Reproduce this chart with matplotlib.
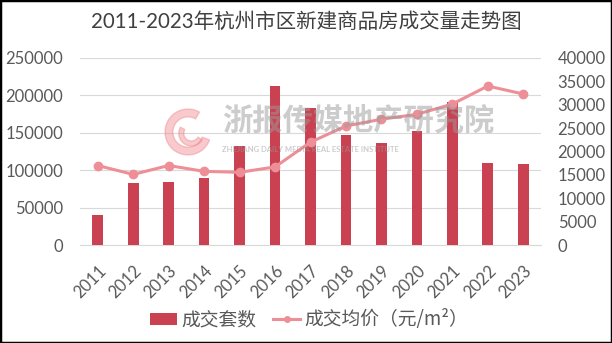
import matplotlib
matplotlib.use('Agg')
import matplotlib.pyplot as plt
from matplotlib.patches import Wedge, Rectangle, Patch
from matplotlib.lines import Line2D
import numpy as np

plt.rcParams['font.family'] = ['Lato', 'Noto Sans CJK SC', 'DejaVu Sans']

# 数据
years = ['2011', '2012', '2013', '2014', '2015', '2016', '2017',
         '2018', '2019', '2020', '2021', '2022', '2023']
units = [40000, 83000, 84000, 89500, 132000, 212000, 183000,
         147000, 136000, 152000, 191000, 110000, 108000]
avg_price = [17000, 15100, 17000, 15750, 15550, 16700, 22000,
             25450, 26900, 27950, 30150, 34000, 32300]

title = '2011-2023年杭州市区新建商品房成交量走势图'
bar_label = '成交套数'
line_label = '成交均价（元/m²）'

bar_color = '#CA4252'
line_color = '#EE8F97'
text_color = '#595959'

fig = plt.figure(figsize=(6.12, 3.43), dpi=100)
fig.patch.set_facecolor('white')
ax = fig.add_axes([80 / 612, 1 - 245 / 343, 461 / 612, 187 / 343])
ax2 = ax.twinx()

x = np.arange(len(years))

# 水印
wm = fig.add_axes([160 / 612, 1 - 160 / 343, 56 / 612, 56 / 343])
wm.set_xlim(-1, 1)
wm.set_ylim(-1, 1)
wm.set_aspect('equal')
wm.axis('off')
wm.add_patch(Wedge((0, 0), 0.82, 60, 340, width=0.28, color='#F08A92', alpha=0.45))
wm.add_patch(Wedge((0.12, -0.05), 0.45, 150, 330, width=0.18, color='#F08A92', alpha=0.45))
wm.set_zorder(0)
fig.text(222 / 612, 1 - 121 / 343, '浙报传媒地产研究院', fontsize=21.8, fontweight='bold',
         color='#9A9A9A', alpha=0.5, va='center', ha='left',
         family=['Noto Sans CJK SC'], zorder=0)
fig.text(222 / 612, 1 - 150 / 343, 'ZHEJIANG DAILY MEDIA REAL ESTATE INSTITUTE',
         fontsize=5.5, fontweight='bold', color='#9A9A9A', alpha=0.5,
         va='center', ha='left', zorder=0)

# 柱状图
ax.bar(x, units, width=0.3, color=bar_color, zorder=3, label=bar_label)
ax.set_ylim(0, 250000)
ax.set_yticks(np.arange(0, 250001, 50000))
ax.set_xlim(-0.5, len(years) - 0.5)
ax.yaxis.grid(True, color='#D9D9D9', linewidth=0.8, zorder=0)
ax.set_axisbelow(True)
ax.set_xticks(x)
ax.set_xticklabels(years, rotation=45, ha='right', rotation_mode='anchor')
ax.patch.set_alpha(0)

# 折线图
ax2.plot(x, avg_price, color=line_color, linewidth=2.2, marker='o',
         markersize=6, zorder=4, label=line_label)
ax2.set_ylim(0, 40000)
ax2.set_yticks(np.arange(0, 40001, 5000))

for a in (ax, ax2):
    for s in a.spines.values():
        s.set_visible(False)
    a.tick_params(length=0, labelsize=12, labelcolor=text_color)
ax.spines['bottom'].set_visible(True)
ax.spines['bottom'].set_color('#D9D9D9')
ax.tick_params(axis='y', pad=12)
ax2.tick_params(axis='y', pad=12)
ax.tick_params(axis='x', pad=13, labelsize=12)

fig.suptitle(title, x=0.5, y=1 - 22 / 343, va='center', fontsize=14.8, color='#404040')

# 图例
handles = [Patch(facecolor=bar_color),
           Line2D([], [], color=line_color, linewidth=2.2, marker='o', markersize=4)]
fig.legend(handles, [bar_label, line_label], loc='center',
           bbox_to_anchor=(0.505, 1 - 320 / 343),
           ncol=2, frameon=False, handlelength=1.45, handleheight=0.55,
           columnspacing=0.9, handletextpad=0.2, labelcolor=text_color,
           prop={'family': ['Noto Sans CJK SC'], 'size': 13.5})

# 外框
fig.add_artist(Rectangle((0, 0), 1, 1, transform=fig.transFigure, fill=False,
                         edgecolor='black', linewidth=2.5))

fig.savefig('out.png', dpi=100, facecolor='white')
